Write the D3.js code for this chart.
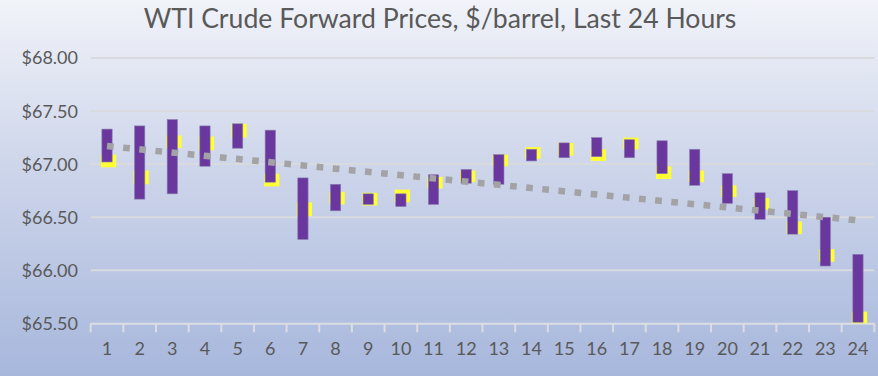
<!DOCTYPE html>
<html lang="en">
<head>
    <meta charset="UTF-8">
    <title>WTI Crude Forward Prices, Last 24 Hours</title>
    <script src="https://d3js.org/d3.v7.min.js"></script>
    <style>
        body { margin: 0; }
        svg { display: block; }
        .tick-label { font-family: Lato, "Open Sans", sans-serif; fill: #595959; }
    </style>
</head>
<body>
    <svg id="chart"></svg>
    <script>
        // hours 1..24
        const hours = d3.range(1, 25).map(String);
        // purple bar ends
        const barHigh = [67.33, 67.36, 67.42, 67.36, 67.38, 67.32, 66.87, 66.81, 66.72, 66.72, 66.90, 66.95,
                         67.09, 67.14, 67.20, 67.25, 67.23, 67.22, 67.14, 66.91, 66.73, 66.75, 66.50, 66.15];
        const barLow  = [67.02, 66.67, 66.72, 66.98, 67.15, 66.83, 66.29, 66.56, 66.62, 66.60, 66.62, 66.82,
                         66.81, 67.03, 67.06, 67.07, 67.06, 66.91, 66.80, 66.63, 66.48, 66.34, 66.04, 65.51];
        // yellow marks behind the bars
        const markHigh = [67.09, 66.94, 67.27, 67.26, 67.38, 66.91, 66.64, 66.74, 66.73, 66.76, 66.88, 66.94,
                          67.09, 67.16, 67.20, 67.14, 67.25, 66.98, 66.94, 66.80, 66.68, 66.46, 66.20, 65.61];
        const markLow  = [66.97, 66.81, 67.15, 67.13, 67.25, 66.79, 66.51, 66.62, 66.61, 66.64, 66.77, 66.83,
                          66.98, 67.05, 67.08, 67.03, 67.14, 66.86, 66.83, 66.69, 66.57, 66.34, 66.08, 65.50];
        // trend line ends (hour 1 and hour 24)
        const trendEnds = [67.17, 66.47];
        const yTicks = [65.5, 66, 66.5, 67, 67.5, 68];
        const title = "WTI Crude Forward Prices, $/barrel, Last 24 Hours";

        const width = 878, height = 376;
        const plotLeft = 90.7, plotRight = 874.3, plotTop = 58, plotBottom = 323.3;

        const svg = d3.select("#chart").attr("width", width).attr("height", height);

        const grad = svg.append("defs").append("linearGradient")
            .attr("id", "bg").attr("x1", 0).attr("y1", 0).attr("x2", 0).attr("y2", 1);
        grad.append("stop").attr("offset", "0%").attr("stop-color", "#f1f3f9");
        grad.append("stop").attr("offset", "45%").attr("stop-color", "#cdd5ea");
        grad.append("stop").attr("offset", "100%").attr("stop-color", "#a7b7dc");
        svg.append("rect").attr("width", width).attr("height", height).attr("fill", "url(#bg)");

        const x = d3.scaleBand().domain(hours).range([plotLeft, plotRight]).padding(0);
        const y = d3.scaleLinear().domain([65.5, 68]).range([plotBottom, plotTop]);

        // gridlines
        svg.append("g")
            .selectAll("line")
            .data(yTicks.slice(1))
            .join("line")
            .attr("x1", plotLeft).attr("x2", plotRight)
            .attr("y1", d => y(d)).attr("y2", d => y(d))
            .attr("stroke", "#d9dade").attr("stroke-width", 2);

        // y axis labels
        svg.append("g")
            .selectAll("text")
            .data(yTicks)
            .join("text")
            .attr("class", "tick-label")
            .attr("x", 78).attr("y", d => y(d))
            .attr("dy", "0.36em")
            .attr("text-anchor", "end")
            .style("font-size", "18px")
            .text(d => "$" + d3.format(".2f")(d));

        // x axis
        const xAxis = svg.append("g")
            .attr("transform", `translate(0,${plotBottom})`)
            .call(d3.axisBottom(x).tickSize(0).tickPadding(19));
        xAxis.select(".domain").attr("stroke", "#dcdde2").attr("stroke-width", 2);
        xAxis.selectAll("text").attr("class", "tick-label").style("font-size", "18px")
            .attr("fill", "#595959");
        svg.append("g")
            .selectAll("line")
            .data(hours.concat(["end"]))
            .join("line")
            .attr("x1", d => d === "end" ? plotRight : x(d))
            .attr("x2", d => d === "end" ? plotRight : x(d))
            .attr("y1", plotBottom).attr("y2", plotBottom + 9)
            .attr("stroke", "#dcdde2").attr("stroke-width", 2);

        const bw = 10.3;
        const data = hours.map((h, i) => ({
            h, hi: barHigh[i], lo: barLow[i], mhi: markHigh[i], mlo: markLow[i]
        }));

        // yellow marks
        svg.append("g")
            .selectAll("rect")
            .data(data)
            .join("rect")
            .attr("x", d => x(d.h) + x.bandwidth() / 2 - bw / 2 - 1)
            .attr("width", bw + 5)
            .attr("y", d => y(d.mhi))
            .attr("height", d => y(d.mlo) - y(d.mhi))
            .attr("fill", "#ffff33");

        // purple bars
        svg.append("g")
            .selectAll("rect")
            .data(data)
            .join("rect")
            .attr("x", d => x(d.h) + x.bandwidth() / 2 - bw / 2)
            .attr("width", bw)
            .attr("y", d => y(d.hi))
            .attr("height", d => y(d.lo) - y(d.hi))
            .attr("fill", "#6a379e")
            .attr("stroke", "#8a80ae")
            .attr("stroke-width", 0.6);

        // dotted trend line
        svg.append("line")
            .attr("x1", x("1") + x.bandwidth() / 2)
            .attr("x2", x("24") + x.bandwidth() / 2)
            .attr("y1", y(trendEnds[0]))
            .attr("y2", y(trendEnds[1]))
            .attr("stroke", "#a3a3a6")
            .attr("stroke-width", 6.5)
            .attr("stroke-dasharray", "6.7,9.5");

        // title, fitted to the reference width
        const t = svg.append("text")
            .attr("x", 440).attr("y", 28)
            .attr("text-anchor", "middle")
            .attr("fill", "#595959")
            .style("font-family", "Lato, 'Open Sans', sans-serif")
            .style("font-size", "24px")
            .text(title);
        const w = t.node().getComputedTextLength();
        t.style("font-size", (24 * 593 / w).toFixed(2) + "px");
    </script>
</body>
</html>
